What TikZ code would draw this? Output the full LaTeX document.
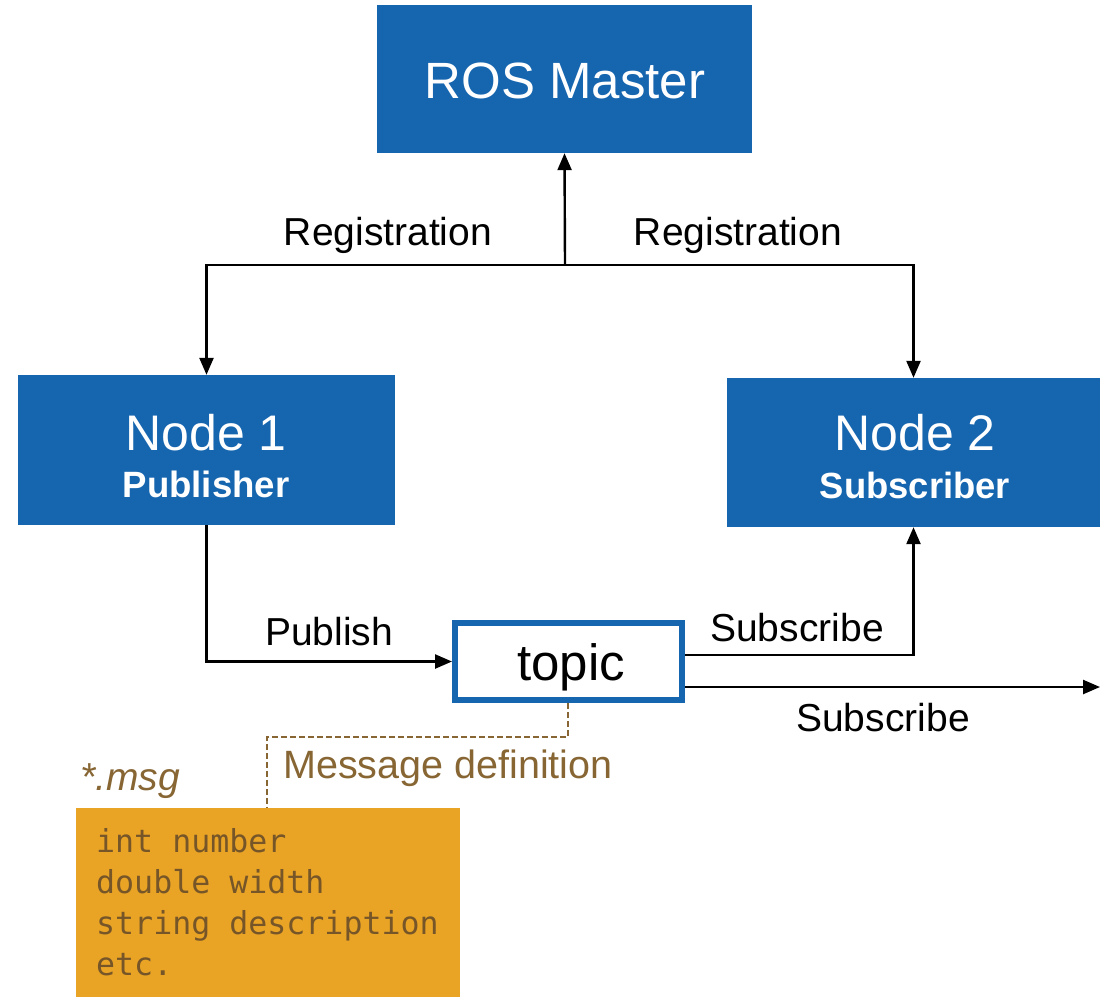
\documentclass[tikz,border=0pt]{standalone}
\usepackage{fontspec}
\setmainfont{Liberation Sans}
\newfontfamily\codefont{DejaVu Sans Mono}
\usetikzlibrary{arrows.meta}
\definecolor{rosblue}{RGB}{22,101,175}
\definecolor{msgorange}{RGB}{233,164,38}
\definecolor{msgbrown}{RGB}{135,102,52}
\definecolor{codebrown}{RGB}{118,86,40}
\newcommand{\fs}[1]{\fontsize{#1}{#1}\selectfont}
\tikzset{
  bluebox/.style={fill=rosblue, draw=none, inner sep=0pt},
  arr/.style={line width=2.4pt, -{Triangle[length=17pt,width=14pt]}},
  lbl/.style={anchor=base, inner sep=0pt, font=\fs{39}},
  boxtxt/.style={anchor=base, inner sep=0pt, text=white},
  codeline/.style={anchor=base west, inner sep=0pt, text=codebrown, font=\codefont\fs{31.6}},
}
\begin{document}
\begin{tikzpicture}[x=1pt,y=-1pt]
\useasboundingbox (0,0) rectangle (1107,997);
% boxes
\node[bluebox, minimum width=375pt, minimum height=148pt] (master) at (564.5,79) {};
\node[bluebox, minimum width=377pt, minimum height=150pt] (node1) at (206.5,450) {};
\node[bluebox, minimum width=373pt, minimum height=149pt] (node2) at (913.5,452.5) {};
\node[draw=rosblue, line width=6pt, fill=white, minimum width=227pt, minimum height=77pt, inner sep=0pt] (topic) at (568.5,661.5) {};
\node[fill=msgorange, draw=none, minimum width=384pt, minimum height=189pt, inner sep=0pt] (msgbox) at (268,902.5) {};
% box texts
\node[boxtxt, font=\fs{51}] (mastertxt) at (565,98) {ROS Master};
\node[boxtxt, font=\fs{50}] (n1a) at (206,450) {Node 1};
\node[boxtxt, font=\bfseries\fs{36.6}] (n1b) at (206,497) {Publisher};
\node[boxtxt, font=\fs{50}] (n2a) at (915,450) {Node 2};
\node[boxtxt, font=\bfseries\fs{36.4}] (n2b) at (915,498) {Subscriber};
\node[anchor=base, inner sep=0pt, font=\fs{51}] (topictxt) at (571,680) {topic};
% labels
\node[lbl] (reg1) at (388,245) {Registration};
\node[lbl] (reg2) at (738,245) {Registration};
\node[lbl] (pub) at (329,645) {Publish};
\node[lbl] (sub1) at (797,641) {Subscribe};
\node[lbl] (sub2) at (883,731) {Subscribe};
\node[anchor=base, inner sep=0pt, font=\fs{39.5}, text=msgbrown] (msgdef) at (448,778) {Message definition};
\node[anchor=base west, inner sep=0pt, font=\itshape\fs{39}, text=msgbrown] (msgname) at (80,790) {*.msg};
% code
\node[codeline] (c1) at (96,852) {int number};
\node[codeline] (c2) at (96,893) {double width};
\node[codeline] (c3) at (96,934) {string description};
\node[codeline] (c4) at (96,975) {etc.};
% connectors
\coordinate (split) at (565,265);
\coordinate (farend) at (1100,687);
\draw[arr] (split) -- (master.south);
\draw[arr] (split) -| (node1.north);
\draw[arr] (split) -| (node2.north);
\draw[arr] (node1.south) |- (topic.west);
\draw[arr] ([yshift=6.5pt]topic.east) -| (node2.south);
\draw[arr] ([yshift=-25.5pt]topic.east) -- (farend);
\coordinate (dashA) at (568,737);
\draw[msgbrown, line width=2.3pt, dash pattern=on 6pt off 3pt] (topic.south -| dashA) -- (dashA) -| (msgbox.north -| 267,0);
\end{tikzpicture}
\end{document}
